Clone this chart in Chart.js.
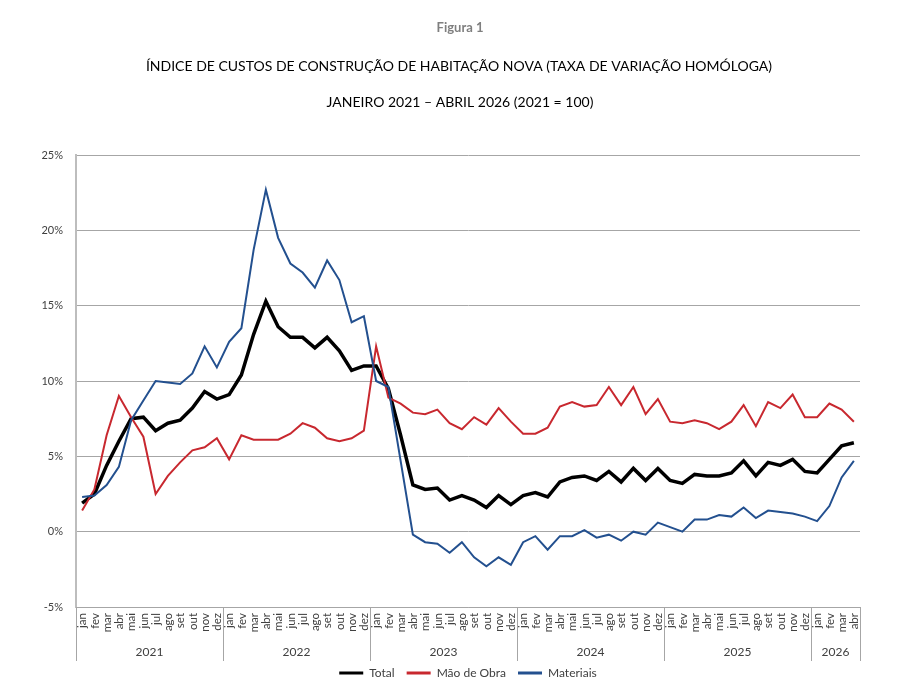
<!DOCTYPE html>
<html>
<head>
<meta charset="utf-8">
<script src="https://cdn.jsdelivr.net/npm/chart.js@4.4.1/dist/chart.umd.min.js"></script>
<style>
  html, body { margin: 0; padding: 0; background: #fff; }
  #wrap { width: 900px; height: 695px; position: relative; }
</style>
</head>
<body>
<div id="wrap"><canvas id="icchn"></canvas></div>
<script>
// meses e anos do eixo
const meses = ['jan', 'fev', 'mar', 'abr', 'mai', 'jun', 'jul', 'ago', 'set', 'out', 'nov', 'dez'];
const anos = ['2021', '2022', '2023', '2024', '2025', '2026'];
const mesesUltimoAno = 4;

// taxa de variação homóloga (%)
const total = [
  1.9, 2.5, 4.4, 6.0, 7.5, 7.6, 6.7, 7.2, 7.4, 8.2, 9.3, 8.8,
  9.1, 10.4, 13.1, 15.3, 13.6, 12.9, 12.9, 12.2, 12.9, 12.0, 10.7, 11.0,
  11.0, 9.5, 6.4, 3.1, 2.8, 2.9, 2.1, 2.4, 2.1, 1.6, 2.4, 1.8,
  2.4, 2.6, 2.3, 3.3, 3.6, 3.7, 3.4, 4.0, 3.3, 4.2, 3.4, 4.2,
  3.4, 3.2, 3.8, 3.7, 3.7, 3.9, 4.7, 3.7, 4.6, 4.4, 4.8, 4.0,
  3.9, 4.8, 5.7, 5.9
];
const maoDeObra = [
  1.4, 2.8, 6.4, 9.0, 7.6, 6.3, 2.5, 3.7, 4.6, 5.4, 5.6, 6.2,
  4.8, 6.4, 6.1, 6.1, 6.1, 6.5, 7.2, 6.9, 6.2, 6.0, 6.2, 6.7,
  12.3, 8.9, 8.5, 7.9, 7.8, 8.1, 7.2, 6.8, 7.6, 7.1, 8.2, 7.3,
  6.5, 6.5, 6.9, 8.3, 8.6, 8.3, 8.4, 9.6, 8.4, 9.6, 7.8, 8.8,
  7.3, 7.2, 7.4, 7.2, 6.8, 7.3, 8.4, 7.0, 8.6, 8.2, 9.1, 7.6,
  7.6, 8.5, 8.1, 7.3
];
const materiais = [
  2.3, 2.4, 3.1, 4.3, 7.4, 8.7, 10.0, 9.9, 9.8, 10.5, 12.3, 10.9,
  12.6, 13.5, 18.7, 22.7, 19.5, 17.8, 17.2, 16.2, 18.0, 16.7, 13.9, 14.3,
  10.0, 9.6, 4.7, -0.2, -0.7, -0.8, -1.4, -0.7, -1.7, -2.3, -1.7, -2.2,
  -0.7, -0.3, -1.2, -0.3, -0.3, 0.1, -0.4, -0.2, -0.6, 0.0, -0.2, 0.6,
  0.3, 0.0, 0.8, 0.8, 1.1, 1.0, 1.6, 0.9, 1.4, 1.3, 1.2, 1.0,
  0.7, 1.7, 3.6, 4.7
];

const tituloFigura = 'Figura 1';
const titulo = 'ÍNDICE DE CUSTOS DE CONSTRUÇÃO DE HABITAÇÃO NOVA (TAXA DE VARIAÇÃO HOMÓLOGA)';
const subtitulo = 'JANEIRO 2021 – ABRIL 2026 (2021 = 100)';

// rótulos "mes ano" para o eixo de categorias
const labels = [];
anos.forEach((ano, i) => {
  const n = i === anos.length - 1 ? mesesUltimoAno : 12;
  for (let m = 0; m < n; m++) labels.push(meses[m] + ' ' + ano);
});

Chart.defaults.font.family = 'Lato, "Open Sans", sans-serif';
Chart.defaults.color = '#404040';

// títulos e eixo de meses/anos desenhados à mão (texto rodado a -90°)
const decoracao = {
  id: 'decoracao',
  afterDraw(chart) {
    const { ctx, chartArea, scales: { x } } = chart;
    ctx.save();

    ctx.textAlign = 'center';
    ctx.textBaseline = 'middle';
    ctx.fillStyle = '#7f7f7f';
    ctx.font = 'bold 13px Lato';
    ctx.fillText(tituloFigura, 460, 28);
    ctx.fillStyle = '#000';
    ctx.font = '14px Lato';
    ctx.fillText(titulo, 459, 66);
    ctx.fillText(subtitulo, 460, 102);

    // meses
    ctx.fillStyle = '#404040';
    ctx.font = '11.5px Lato';
    ctx.textAlign = 'right';
    labels.forEach((lab, i) => {
      ctx.save();
      ctx.translate(x.getPixelForValue(i) + 0.5, chartArea.bottom + 6);
      ctx.rotate(-Math.PI / 2);
      ctx.fillText(lab.split(' ')[0], 0, 0);
      ctx.restore();
    });

    // separadores e anos
    const y0 = chartArea.bottom;
    const y1 = chartArea.bottom + 54;
    ctx.strokeStyle = '#a6a6a6';
    ctx.lineWidth = 1;
    ctx.font = '12px Lato';
    ctx.textAlign = 'center';
    let inicio = 0;
    anos.forEach((ano, a) => {
      const n = a === anos.length - 1 ? mesesUltimoAno : 12;
      const fim = inicio + n - 1;
      const xa = inicio === 0 ? chartArea.left
        : (x.getPixelForValue(inicio - 1) + x.getPixelForValue(inicio)) / 2;
      const xb = fim === labels.length - 1 ? chartArea.right
        : (x.getPixelForValue(fim) + x.getPixelForValue(fim + 1)) / 2;
      ctx.beginPath();
      ctx.moveTo(Math.round(xa) + 0.5, y0);
      ctx.lineTo(Math.round(xa) + 0.5, y1);
      ctx.moveTo(Math.round(xb) + 0.5, y0);
      ctx.lineTo(Math.round(xb) + 0.5, y1);
      ctx.stroke();
      ctx.fillText(ano, (xa + xb) / 2, chartArea.bottom + 45);
      inicio = fim + 1;
    });
    ctx.restore();
  }
};

const config = {
  type: 'line',
  data: {
    labels: labels,
    datasets: [
      { label: 'Total', data: total, borderColor: '#000000', backgroundColor: '#000000', borderWidth: 3.5, order: 3 },
      { label: 'Mão de Obra', data: maoDeObra, borderColor: '#c8282f', backgroundColor: '#c8282f', borderWidth: 2, order: 2 },
      { label: 'Materiais', data: materiais, borderColor: '#23508f', backgroundColor: '#23508f', borderWidth: 2, order: 1 }
    ]
  },
  options: {
    responsive: true,
    maintainAspectRatio: false,
    animation: false,
    layout: { padding: { top: 155, left: 0, right: 40, bottom: 6 } },
    elements: { point: { radius: 0 }, line: { tension: 0 } },
    plugins: {
      tooltip: { enabled: false },
      legend: {
        position: 'bottom',
        fullSize: false,
        maxHeight: 36,
        labels: {
          usePointStyle: true,
          pointStyle: 'line',
          pointStyleWidth: 24,
          padding: 12,
          color: '#404040',
          font: { size: 12 },
          sort: (a, b) => a.datasetIndex - b.datasetIndex,
          generateLabels(chart) {
            const items = Chart.defaults.plugins.legend.labels.generateLabels(chart);
            items.forEach(it => { it.lineWidth = 3; });
            return items;
          }
        }
      }
    },
    scales: {
      x: {
        offset: true,
        grid: { display: false },
        border: { display: true, color: '#a6a6a6', width: 1 },
        ticks: { display: false },
        afterFit(scale) { scale.height = 48; }
      },
      y: {
        min: -5,
        max: 25,
        ticks: {
          stepSize: 5,
          padding: 13,
          font: { size: 11 },
          color: '#404040',
          callback: v => v + '%'
        },
        grid: { color: '#a6a6a6', lineWidth: 1, drawTicks: false },
        border: { display: true, color: '#bdbdbd', width: 2 },
        afterFit(scale) { scale.width = 76; }
      }
    }
  },
  plugins: [decoracao]
};

new Chart(document.getElementById('icchn'), config);
</script>
</body>
</html>
